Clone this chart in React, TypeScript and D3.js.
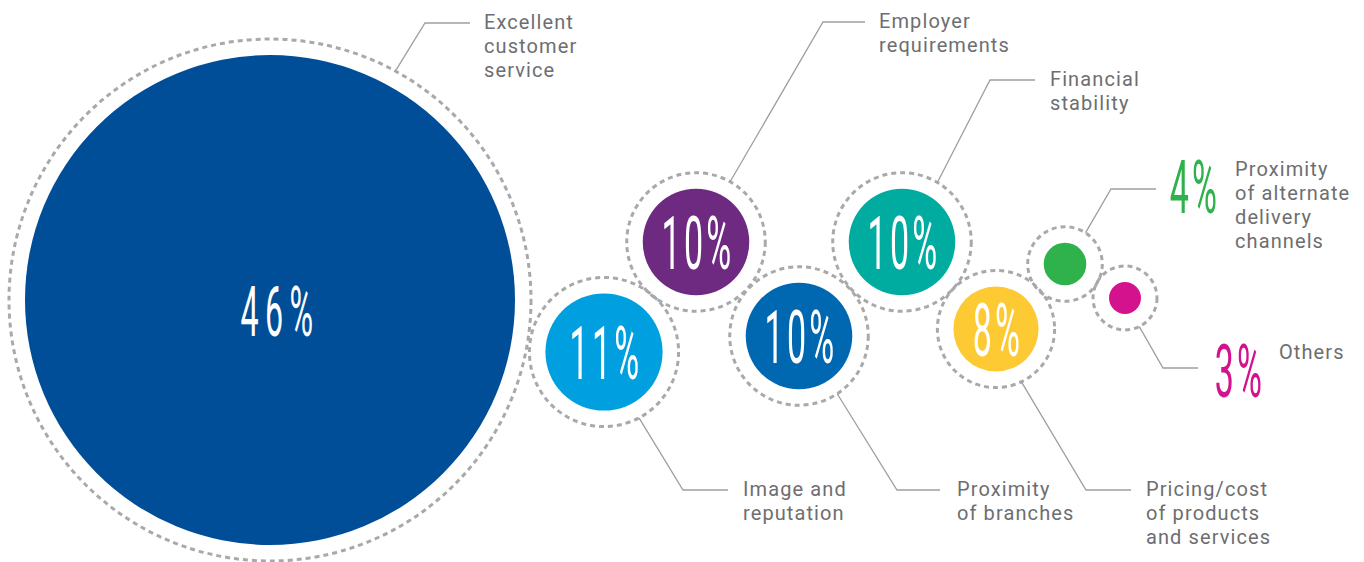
import React from 'react'
import * as d3 from 'd3'

// share of respondents, per reason
const categories = [
  'Excellent\ncustomer\nservice',
  'Image and\nreputation',
  'Employer\nrequirements',
  'Proximity\nof branches',
  'Financial\nstability',
  'Pricing/cost\nof products\nand services',
  'Proximity\nof alternate\ndelivery\nchannels',
  'Others',
]
const values = [46, 11, 10, 10, 10, 8, 4, 3]
const colors = ['#004e97', '#009fdf', '#6e2a80', '#0067b1', '#00aca0', '#fdca34', '#2fb24b', '#d5128e']

// layout (bubble centres, leader geometry) kept apart from the data
const centers: [number, number][] = [
  [270, 300], [604, 352], [696, 242], [799, 336], [902, 242], [996, 329], [1065, 264], [1125, 298],
]
const leaderAngle = [-61.3, 62, -60.5, 56.5, -59.3, 64.3, -56.7, 63.4]
const elbows: [number, number][] = [
  [425, 23], [683, 490], [823, 22], [897, 490], [990, 80], [1086, 490], [1111, 189], [1163, 368],
]
const lineEnd = [470, 728, 865, 940, 1035, 1131, 1156, 1198]
const textX = [484, 743, 879, 957, 1050, 1146, 1235, 1279]
const outside = [false, false, false, false, false, false, true, true]
const outsideX = [0, 0, 0, 0, 0, 0, 1195, 1240]
const outsideY = [0, 0, 0, 0, 0, 0, 213, 397]
const outsideLabelY = [0, 0, 0, 0, 0, 0, 176, 359]
const pctDx = [10, 2, 2, 2, 2, 2, 0, 0]
const pctDy = [36, 27, 27, 27, 27, 27, 0, 0]
const pctSize = [70, 74, 74, 74, 74, 74, 74, 74]
const pctTrack = [14, 7, 7, 7, 7, 7, 7, 7]

const ringGap = 16
const labelColor = '#6d6e71'
const ringColor = '#a7a9ac'

export default function App() {
  const r = d3.scaleLinear().domain([0, 46]).range([0, 245])
  const line = d3.line()

  const pct = (i: number, x: number, y: number, fill: string) => (
    <text
      key={'pct' + i}
      transform={`translate(${x},${y}) scale(0.46,1)`}
      textAnchor="middle"
      fill={fill}
      fontFamily="Roboto"
      fontWeight={400}
      fontSize={pctSize[i]}
      letterSpacing={pctTrack[i]}
    >
      {values[i]}%
    </text>
  )

  return (
    <svg
      width={1364}
      height={562}
      style={{ position: 'absolute', left: 0, top: 0, background: '#fff' }}
    >
      {values.map((v, i) => (
        <circle
          key={'ring' + i}
          cx={centers[i][0]}
          cy={centers[i][1]}
          r={r(v) + ringGap}
          fill="none"
          stroke={ringColor}
          strokeWidth={3}
          strokeDasharray="5 4"
        />
      ))}
      {values.map((v, i) => (
        <circle key={'dot' + i} cx={centers[i][0]} cy={centers[i][1]} r={r(v)} fill={colors[i]} />
      ))}
      {values.map((v, i) => {
        const a = (leaderAngle[i] * Math.PI) / 180
        const rr = r(v) + ringGap
        const p0: [number, number] = [centers[i][0] + rr * Math.cos(a), centers[i][1] + rr * Math.sin(a)]
        const d = line([p0, elbows[i], [lineEnd[i], elbows[i][1]]]) || ''
        return <path key={'lead' + i} d={d} fill="none" stroke="#9d9fa2" strokeWidth={1.3} />
      })}
      {values.map((v, i) =>
        outside[i]
          ? pct(i, outsideX[i], outsideY[i], colors[i])
          : pct(i, centers[i][0] + pctDx[i], centers[i][1] + pctDy[i], '#fff')
      )}
      {categories.map((c, i) => {
        const y0 = outside[i] ? outsideLabelY[i] : elbows[i][1] + 6
        return (
          <text
            key={'lab' + i}
            x={textX[i]}
            y={y0}
            fill={labelColor}
            fontFamily="Roboto"
            fontSize={20}
            letterSpacing={1.1}
          >
            {c.split('\n').map((t, j) => (
              <tspan key={j} x={textX[i]} y={y0 + j * 24}>
                {t}
              </tspan>
            ))}
          </text>
        )
      })}
    </svg>
  )
}
